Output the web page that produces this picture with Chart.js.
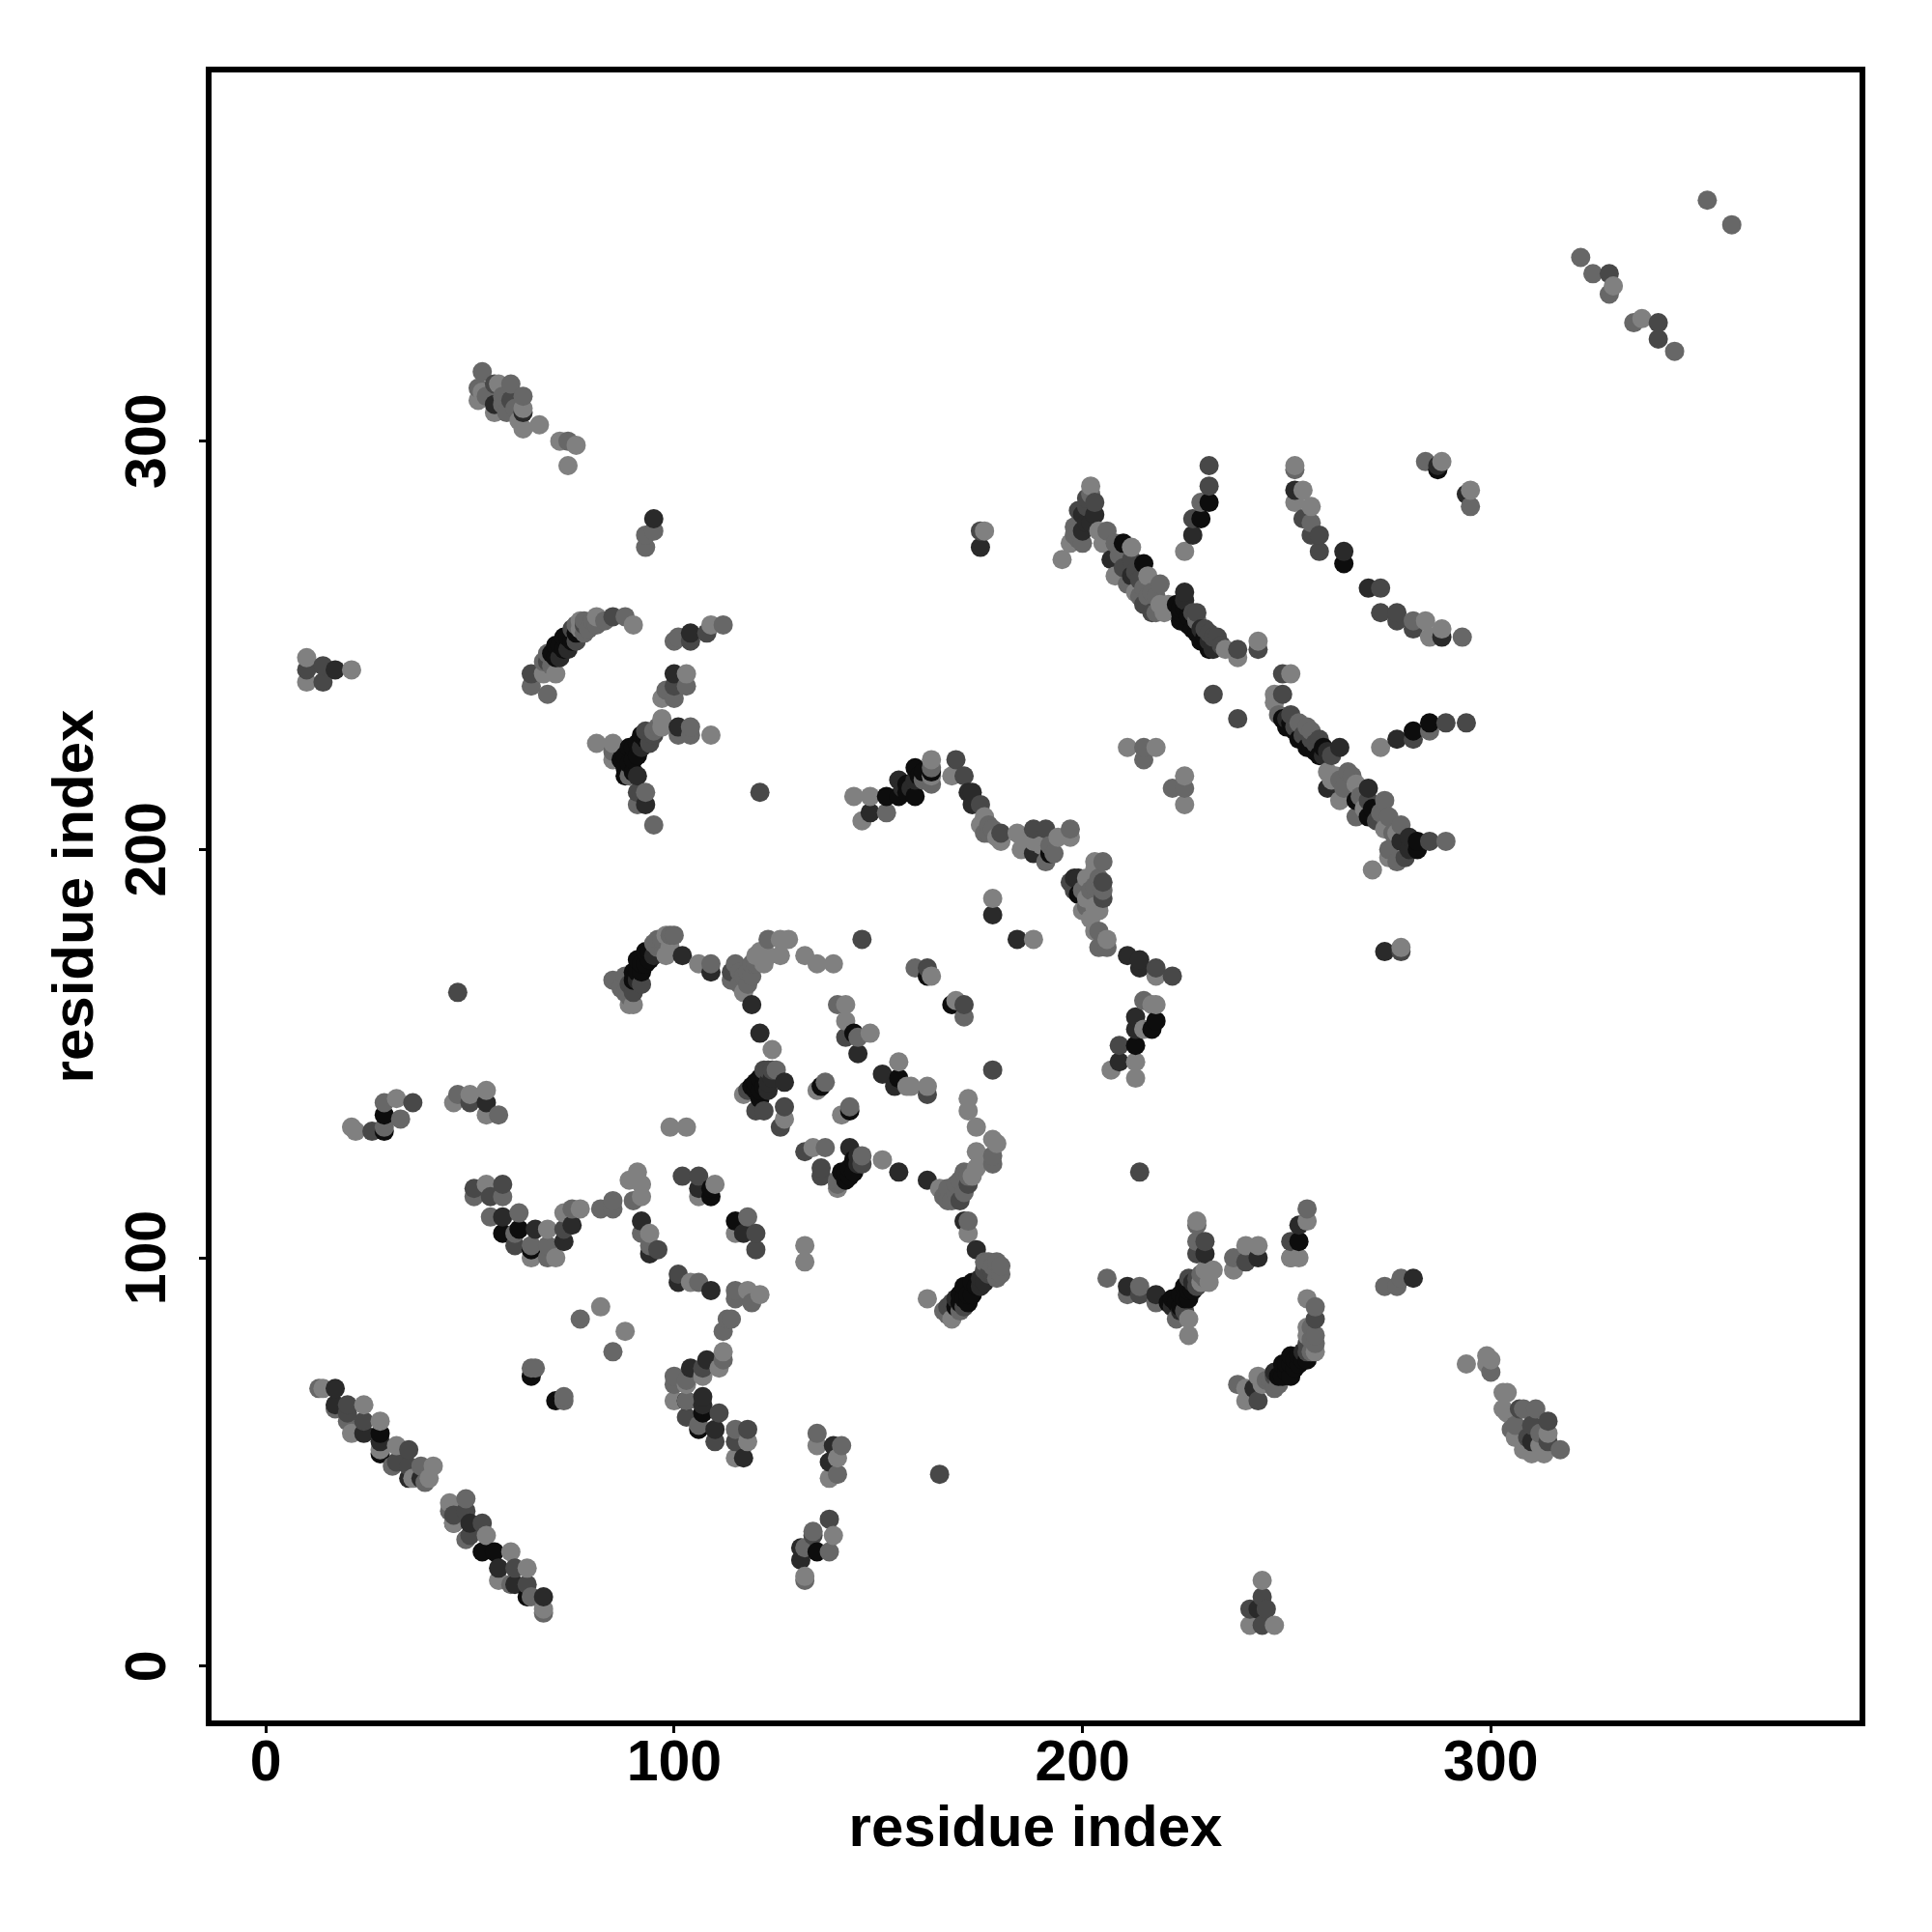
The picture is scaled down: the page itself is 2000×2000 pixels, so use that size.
<!DOCTYPE html>
<html>
<head>
<meta charset="utf-8">
<title>residue index</title>
<script src="https://cdn.jsdelivr.net/npm/chart.js@4"></script>
<style>
	body { margin: 0; background: #fff; }
</style>
</head>
<body>
<canvas id="chart1" width="2000" height="2000"></canvas>
<script>
// every contact is [residue x, residue y, score], score 1 (weak) to 5 (strong)
const tickValues = [0, 100, 200, 300];
const axisTitle = 'residue index';

const strandLow1 = [[13,68,2],[14,68,1],[17,68,4],[17,64,4],[17,63,2],[20,64,3],[24,64,1],[20,62,3],[20,60,2],[24,60,3],[21,57,1],[24,57,4],[28,60,1],[28,57,5],[28,55,4],[28,53,1],[28,52,5],[32,54,1],[35,53,3],[31,49,2],[32,50,3],[35,49,3],[38,49,2],[41,49,1],[35,46,4],[36,46,1],[38,46,4],[39,45,2],[40,46,1]];
const strandLow2 = [[49,41,2],[45,40,1],[45,38,2],[49,38,3],[46,37,3],[46,35,4],[46,35,1],[50,35,4],[53,35,3],[49,31,2],[50,32,3],[54,32,1],[53,28,5],[56,28,5],[60,28,1],[57,24,4],[57,21,1],[61,24,3],[64,24,1],[61,20,4],[60,20,2],[64,20,3],[64,17,5],[65,17,2],[68,17,4],[68,14,1],[68,13,2]];
const clusterBottom = [[138,36,3],[134,33,2],[134,32,3],[139,32,1],[131,29,4],[132,29,2],[135,28,5],[138,28,2],[131,26,4],[132,22,1],[132,21,2],[135,57,2],[135,54,1],[139,54,4],[141,54,2],[138,50,4],[140,51,1],[140,47,2],[138,46,1],[165,47,3]];
const clusterLow3 = [[112,77,1],[112,75,2],[111,73,1],[108,75,4],[104,73,4],[107,73,3],[107,71,1],[100,71,2],[100,69,2],[103,70,2],[103,69,1],[100,65,1],[103,65,5],[103,65,2],[107,66,4],[107,62,5],[107,64,4],[111,62,3],[103,61,3],[106,58,5],[106,59,2],[110,58,4],[110,55,3],[115,58,2],[118,58,3],[115,55,3],[118,55,1],[115,51,1],[117,51,4]];
const isolatedLow = [[82,88,1],[77,85,2],[88,82,1],[85,77,2],[65,73,2],[66,73,2],[65,71,5],[71,65,5],[73,66,2],[73,65,2],[132,103,1],[132,99,1],[214,121,3],[121,214,3],[47,165,3],[178,146,3]];
const clusterMid1 = [[51,117,3],[51,115,2],[54,118,1],[55,115,3],[58,118,3],[58,115,2],[55,110,2],[58,110,4],[62,111,2],[58,106,5],[62,107,5],[61,106,2],[66,107,4],[65,103,2],[61,103,3],[65,102,5],[65,100,1],[69,107,1],[73,107,3],[75,108,4],[73,111,1],[75,112,2],[77,112,1],[73,104,4],[69,103,2],[69,100,2],[71,100,1],[82,112,2],[85,114,2],[85,112,2]];
const clusterMid2 = [[91,121,1],[89,119,1],[92,118,1],[90,114,2],[92,115,1],[92,109,4],[92,106,2],[94,106,1],[94,101,4],[96,102,3],[94,103,2],[102,120,3],[106,120,3],[106,117,4],[110,118,1],[109,117,5],[106,115,1],[109,115,5],[115,109,5],[118,110,2],[115,106,1],[117,106,4],[120,106,3],[120,102,3],[101,96,3],[101,94,4],[104,94,1],[106,94,2],[109,92,4],[115,92,2],[115,90,2],[118,92,1],[121,91,1],[119,89,2],[113,85,2],[114,85,2],[112,82,2]];
const arcCentre1 = [[85,168,2],[87,166,2],[90,162,1],[89,162,1],[88,169,2],[89,167,3],[90,168,5],[91,170,5],[92,172,5],[91,173,5],[93,175,5],[94,173,5],[95,177,2],[96,178,2],[99,179,2],[98,174,1],[96,176,2],[102,174,4],[106,172,1],[109,172,2],[109,170,4],[90,170,5],[91,168,4],[92,170,5],[93,172,5],[94,175,5],[95,174,4],[92,167,3],[90,165,3],[88,165,2],[89,164,2],[97,178,2],[98,179,1],[100,179,2],[99,176,1]];
const arcCentre2 = [[114,170,3],[114,168,2],[117,165,1],[117,169,2],[119,172,2],[120,174,1],[123,174,1],[126,174,1],[123,178,2],[126,178,1],[128,178,1],[132,174,1],[135,172,1],[139,172,1],[146,178,3],[119,162,4],[121,155,4],[124,151,1],[115,172,2],[116,170,2],[118,170,2],[116,167,2],[118,167,2],[120,172,2],[121,175,1],[122,172,1],[119,169,2]];
const clusterCentre1 = [[159,171,2],[162,171,3],[163,169,1],[162,169,5],[169,163,1],[171,162,3],[168,162,5],[171,159,2],[140,162,2],[142,162,1],[142,158,1],[142,154,3],[144,155,5],[145,154,2],[148,155,1],[145,150,4],[155,148,1],[151,145,4],[155,144,5],[154,142,4],[157,142,1],[158,142,1],[162,142,1],[162,140,3]];
const arcCentre3 = [[172,139,1],[172,136,1],[174,132,1],[178,129,1],[179,128,1],[174,126,1],[178,125,2],[174,122,1],[178,123,2],[171,121,2],[170,119,2],[172,118,3],[167,117,2],[165,117,1],[170,114,3],[168,114,2],[162,119,4],[171,109,4],[172,109,2],[172,106,1],[169,116,2],[171,116,2],[172,120,2],[173,120,1],[167,114,2],[166,115,2],[175,124,1],[169,118,2]];
const arcCentre4 = [[174,102,4],[179,99,2],[179,97,2],[176,97,3],[173,94,5],[171,93,5],[175,93,4],[170,91,5],[173,91,5],[169,88,5],[167,88,3],[162,90,1],[166,87,2],[168,85,1],[172,91,5],[174,93,5],[175,95,4],[176,94,4],[177,96,3],[178,98,2],[170,89,5],[171,90,5],[172,89,5],[169,90,4],[171,88,3],[176,99,2],[178,96,3],[177,99,2],[180,98,2],[180,96,2],[179,95,2],[168,89,3],[167,86,2],[170,87,2]];
const clusterCentre2 = [[117,140,1],[119,142,5],[121,144,5],[123,146,3],[125,146,2],[121,141,5],[123,143,4],[127,143,4],[120,136,3],[122,136,3],[127,137,3],[127,134,1],[126,132,3],[137,143,2],[135,141,1],[136,142,5],[143,137,2],[141,135,1],[143,136,5],[99,132,1],[103,132,1],[120,141,5],[120,143,5],[122,142,5],[122,145,5],[124,144,4],[118,141,3],[124,146,3],[122,146,3],[121,139,5],[123,141,4]];
const clusterCentre3 = [[132,126,3],[134,127,1],[137,127,2],[136,122,3],[136,120,3],[143,127,4],[146,125,2],[145,123,4],[143,122,5],[141,121,5],[142,119,5],[140,117,1],[140,118,2],[151,124,1],[155,121,4],[142,121,5],[143,120,5],[144,121,5],[144,124,5],[145,125,4],[140,119,2],[146,123,3]];
const clusterRight1 = [[206,95,2],[211,93,4],[211,91,2],[214,93,2],[214,91,3],[218,91,4],[218,89,2],[222,90,5],[223,89,5],[225,93,5],[225,90,5],[227,92,5],[226,95,3],[223,85,2],[226,85,1],[226,81,1],[229,94,1],[230,95,2],[232,97,1],[230,97,1],[228,109,1],[228,108,2],[228,104,2],[230,104,3],[228,101,3],[230,101,4],[221,89,5],[224,88,5],[224,91,5],[226,92,5],[226,90,5],[227,94,4],[228,93,3],[228,95,3],[229,96,2],[224,87,4],[222,88,4],[225,87,3],[231,94,1]];
const clusterRight2 = [[237,100,2],[237,97,1],[240,103,1],[240,99,3],[243,103,1],[243,100,4],[255,112,2],[255,109,1],[253,108,4],[251,104,3],[253,104,5],[251,100,2],[251,100,1],[253,100,1],[274,93,2],[277,93,2],[278,95,2],[281,95,4]];
const arcRight = [[255,90,1],[257,88,2],[257,85,3],[257,81,2],[257,79,2],[255,81,1],[257,77,1],[255,77,3],[255,75,5],[253,74,5],[251,76,5],[251,74,5],[251,71,5],[249,74,5],[249,71,5],[248,69,2],[247,71,3],[246,70,2],[243,71,1],[238,69,2],[240,68,1],[244,69,1],[243,65,3],[240,65,1],[242,68,4],[247,72,4],[248,71,5],[250,72,5],[250,74,5],[252,73,5],[252,75,5],[253,76,5],[254,77,4],[254,75,5],[255,79,3],[256,80,2],[256,83,2],[256,77,2],[255,83,1],[245,70,2],[247,68,2]];
const clusterFarRight = [[294,74,1],[299,76,1],[299,74,1],[300,72,2],[303,67,1],[303,63,1],[307,63,3],[308,63,2],[311,63,2],[306,59,2],[306,56,1],[310,59,3],[314,60,3],[310,55,4],[314,57,1],[314,55,3],[310,52,1],[313,52,1],[317,53,2],[305,58,2],[308,53,1],[312,57,2],[312,54,1],[309,56,3],[304,62,1],[304,67,1],[300,75,1]];
const triangleBottom = [[244,21,1],[244,17,3],[241,14,3],[245,14,3],[243,14,4],[241,10,1],[244,10,3],[247,10,1]];
const clusterLeft1 = [[10,247,1],[10,244,3],[10,241,1],[14,245,3],[14,241,3],[17,244,4],[21,244,1],[21,132,1],[22,131,1],[26,131,3],[29,131,5],[29,135,5],[29,138,2],[32,139,1],[33,134,2],[36,138,3],[29,132,2],[47,140,2],[46,138,1],[50,140,1],[50,138,3],[54,141,1],[54,138,4],[54,135,1],[57,135,2]];
const arcUpperLeft = [[65,243,3],[65,240,2],[69,238,2],[68,243,1],[71,243,1],[69,248,2],[70,248,5],[72,250,5],[74,252,5],[76,253,5],[78,255,3],[81,255,2],[77,256,1],[78,256,2],[81,257,1],[85,257,3],[88,257,2],[90,255,1],[68,246,2],[69,246,3],[71,247,5],[73,249,5],[75,251,5],[71,250,5],[73,252,5],[75,254,3],[76,255,2],[77,254,1],[79,254,2],[70,245,2],[72,247,4],[74,249,4],[76,251,3],[78,253,2],[80,256,2],[83,256,2]];
const clusterUpper1 = [[101,252,2],[104,253,4],[104,251,3],[100,251,2],[108,253,3],[109,255,1],[112,255,2],[100,243,4],[103,243,1],[103,240,2],[100,240,3],[98,239,2],[97,237,1],[100,237,2]];
const forkUpper = [[81,226,1],[85,226,1],[85,224,2],[85,222,1],[88,223,5],[90,225,5],[92,228,5],[93,229,3],[90,222,5],[95,228,3],[95,229,2],[97,232,1],[97,230,1],[101,230,4],[101,228,2],[104,230,2],[104,228,2],[109,228,1],[89,218,2],[91,218,4],[91,214,3],[93,214,2],[91,211,2],[93,211,4],[95,206,2],[87,222,5],[89,221,5],[88,220,5],[89,225,5],[91,223,5],[91,226,5],[92,225,4],[93,227,5],[94,226,3],[96,230,2],[88,218,5],[90,219,5]];
const clusterTopLeft = [[53,317,2],[52,313,2],[52,310,1],[56,314,3],[57,314,1],[56,309,4],[56,307,1],[60,314,2],[60,310,3],[59,307,2],[63,311,2],[63,308,1],[63,307,4],[63,303,1],[67,304,1],[72,300,1],[74,300,2],[76,299,1],[74,294,1],[95,281,4],[95,278,2],[93,277,2],[93,274,2],[53,312,1],[54,311,2],[58,311,2],[58,309,2],[61,308,2],[62,305,1]];
const peakUpper = [[175,278,3],[176,278,1],[175,274,4],[202,289,1],[201,286,3],[203,285,3],[200,282,4],[203,282,4],[200,278,4],[198,279,2],[197,275,1],[200,275,2],[195,271,1],[204,278,1],[206,278,2],[208,275,2],[205,275,1],[212,274,1],[210,275,5],[199,278,2],[201,280,4],[202,280,4],[199,283,3],[201,284,3],[202,287,2],[199,276,2],[198,277,2]];
const strandUpper = [[207,271,4],[212,271,3],[215,270,5],[208,267,1],[212,267,4],[216,267,1],[219,265,2],[213,263,1],[215,264,2],[215,260,3],[219,260,1],[225,263,4],[223,260,5],[224,258,5],[227,258,3],[224,256,5],[228,256,2],[227,254,5],[230,254,3],[229,251,5],[233,252,3],[232,249,4],[235,249,1],[238,249,3],[238,247,1],[243,249,3],[243,251,1],[225,259,5],[226,257,5],[226,255,5],[228,253,5],[228,258,3],[229,254,4],[230,252,5],[231,251,4],[231,253,3],[232,252,3],[234,250,3],[225,261,4],[224,259,5],[231,249,5],[210,269,3],[211,265,2],[213,268,3],[214,266,3],[214,262,2],[216,262,2],[217,263,2],[218,258,2],[217,258,3],[220,258,1],[221,260,1],[218,262,2],[209,272,2]];
const strandVertical = [[231,294,3],[231,289,3],[231,285,5],[229,285,2],[229,281,5],[227,281,3],[227,277,4],[225,273,1]];
const arcFarUpper = [[252,294,1],[252,293,2],[252,288,4],[254,288,1],[252,285,1],[256,284,1],[254,281,3],[256,280,2],[256,277,3],[258,277,3],[258,273,3],[264,273,4],[264,270,5],[270,264,4],[273,264,3],[273,258,3],[277,258,3],[277,256,3],[281,256,2],[281,254,3],[284,256,1],[285,252,1],[288,254,1],[288,252,4],[293,252,2],[284,295,2],[287,294,4],[288,295,1],[287,293,5],[295,288,1],[294,287,4],[295,284,2]];
const strandLower = [[249,243,3],[251,243,1],[232,238,3],[238,232,3],[247,238,1],[249,238,3],[247,236,1],[249,232,5],[251,233,3],[253,231,2],[250,230,5],[256,229,2],[253,227,5],[258,227,3],[255,225,5],[259,225,5],[263,225,4],[261,223,3],[258,223,5],[273,225,1],[277,227,4],[281,229,5],[281,227,3],[285,231,5],[285,229,2],[289,231,3],[294,231,3],[250,232,4],[251,231,5],[252,229,5],[252,230,3],[254,227,5],[254,228,3],[256,225,5],[256,227,3],[257,224,5],[257,226,3],[259,223,4],[260,224,4],[255,230,2],[248,233,2]];
const clusterLower = [[260,219,1],[260,215,4],[265,219,2],[262,218,1],[267,216,1],[270,215,4],[263,212,1],[267,212,5],[270,212,3],[274,212,2],[267,208,2],[270,208,5],[275,208,2],[274,205,1],[278,206,2],[278,202,4],[282,202,5],[282,200,5],[285,202,3],[289,202,2],[275,200,2],[275,198,1],[279,198,3],[271,195,1],[274,175,4],[278,176,1],[278,175,3],[261,217,1],[263,217,2],[264,215,2],[266,218,2],[268,213,2],[269,210,1],[271,210,5],[272,207,3],[273,209,2],[276,204,2],[277,204,1],[280,200,4],[280,203,4],[277,197,2]];
const clusterRow220 = [[211,225,1],[215,225,2],[218,225,1],[215,222,2],[225,218,1],[222,215,2],[225,215,2],[225,211,1]];
const hillLeft = [[144,213,1],[148,213,1],[146,207,1],[148,209,4],[152,209,2],[152,213,5],[155,213,5],[155,217,4],[159,213,5],[159,217,4],[159,220,5],[163,219,5],[163,222,1],[163,220,2],[163,218,1],[163,216,2],[156,215,4],[157,214,5],[158,215,4],[161,217,2],[161,219,5],[160,218,5],[157,216,5]];
const hillRight = [[169,222,3],[168,218,1],[171,218,3],[172,214,4],[173,214,4],[175,211,3],[173,211,4],[176,208,1],[177,206,2],[176,204,2],[180,204,3],[180,202,1],[184,204,1],[188,205,3],[191,205,3],[197,205,2],[197,203,1],[185,200,1],[188,202,1],[192,201,2],[188,199,4],[191,197,2],[192,199,5],[178,188,1],[178,184,4],[184,178,4],[188,178,1],[178,205,2],[179,203,1],[177,204,2],[175,206,1],[186,203,1],[190,201,1],[194,203,1],[193,199,2]];
const chainDown = [[203,197,1],[205,197,2],[205,192,3],[198,193,4],[199,193,4],[197,192,3],[199,189,5],[201,188,1],[205,188,3],[200,185,1],[204,185,1],[203,195,1],[203,180,1],[204,180,2],[206,178,1],[204,176,2],[206,176,2],[211,174,4],[214,173,4],[214,171,4],[218,171,3],[218,169,1],[222,169,3],[198,190,3],[200,190,2],[201,186,2],[202,190,2],[203,191,2],[203,186,1],[204,193,2],[205,190,2],[202,183,1],[201,193,1]];
const chainLower = [[217,162,1],[215,163,2],[218,162,1],[218,158,5],[213,159,4],[213,156,4],[217,156,5],[215,156,1],[213,152,5],[209,152,3],[209,148,4],[213,148,1],[207,146,1],[213,144,1]];
const diagonalTop = [[353,359,2],[359,353,2],[322,345,2],[325,341,2],[329,341,3],[330,338,1],[329,336,2],[335,329,2],[337,330,1],[341,329,3],[341,325,3],[345,322,2]];

const contacts = [].concat(strandLow1, strandLow2, clusterBottom, clusterLow3, isolatedLow, clusterMid1, clusterMid2, arcCentre1, arcCentre2, clusterCentre1, arcCentre3, arcCentre4, clusterCentre2, clusterCentre3, clusterRight1, clusterRight2, arcRight, clusterFarRight, triangleBottom, clusterLeft1, arcUpperLeft, clusterUpper1, forkUpper, clusterTopLeft, peakUpper, strandUpper, strandVertical, arcFarUpper, strandLower, clusterLower, clusterRow220, hillLeft, hillRight, chainDown, chainLower, diagonalTop);

// drawn in residue order
contacts.sort((a, b) => a[0] - b[0] || a[1] - b[1]);

const greys = { 1: '#808080', 2: '#676767', 3: '#484848', 4: '#2a2a2a', 5: '#0d0d0d' };

const tickFont = { family: '"Liberation Sans", Helvetica, Arial, sans-serif', weight: 'bold', size: 59 };
const titleFont = { family: '"Liberation Sans", Helvetica, Arial, sans-serif', weight: 'bold', size: 60 };

// the box on top of the points, R style
const boxPlugin = {
	id: 'box',
	afterDraw(chart) {
		const { ctx, chartArea: a } = chart;
		ctx.save();
		ctx.strokeStyle = '#000';
		ctx.lineWidth = 6;
		ctx.strokeRect(a.left, a.top, a.right - a.left, a.bottom - a.top);
		ctx.restore();
	}
};

const ctx = document.getElementById('chart1').getContext('2d');
const myChart = new Chart(ctx, {
	type: 'scatter',
	data: {
		datasets: [
			{
				label: 'contacts',
				data: contacts.map((c) => ({ x: c[0], y: c[1] })),
				pointBackgroundColor: contacts.map((c) => greys[c[2]]),
				pointBorderWidth: 0,
				pointRadius: 10
			}
		]
	},
	options: {
		responsive: false,
		animation: false,
		layout: { padding: { left: 0, top: 72, right: 72, bottom: 0 } },
		plugins: { legend: { display: false }, tooltip: { enabled: false } },
		scales: {
			x: {
				type: 'linear',
				min: -14,
				max: 391,
				afterBuildTicks: (scale) => { scale.ticks = tickValues.map((v) => ({ value: v })); },
				afterFit: (scale) => { scale.height = 216; },
				grid: { drawOnChartArea: false, tickColor: '#000', tickWidth: 3, tickLength: 10 },
				border: { display: false },
				ticks: { color: '#000', font: tickFont, padding: -3, maxRotation: 0, autoSkip: false },
				title: { display: true, text: axisTitle, color: '#000', font: titleFont, padding: { top: 0, bottom: 70 } }
			},
			y: {
				type: 'linear',
				min: -14,
				max: 391,
				afterBuildTicks: (scale) => { scale.ticks = tickValues.map((v) => ({ value: v })); },
				afterFit: (scale) => { scale.width = 216; },
				grid: { drawOnChartArea: false, tickColor: '#000', tickWidth: 3, tickLength: 10 },
				border: { display: false },
				ticks: { color: '#000', font: tickFont, padding: 2, minRotation: 90, maxRotation: 90, crossAlign: 'center', autoSkip: false },
				title: { display: true, text: axisTitle, color: '#000', font: titleFont, padding: { top: 43, bottom: 0 } }
			}
		}
	},
	plugins: [boxPlugin]
});
</script>
</body>
</html>
